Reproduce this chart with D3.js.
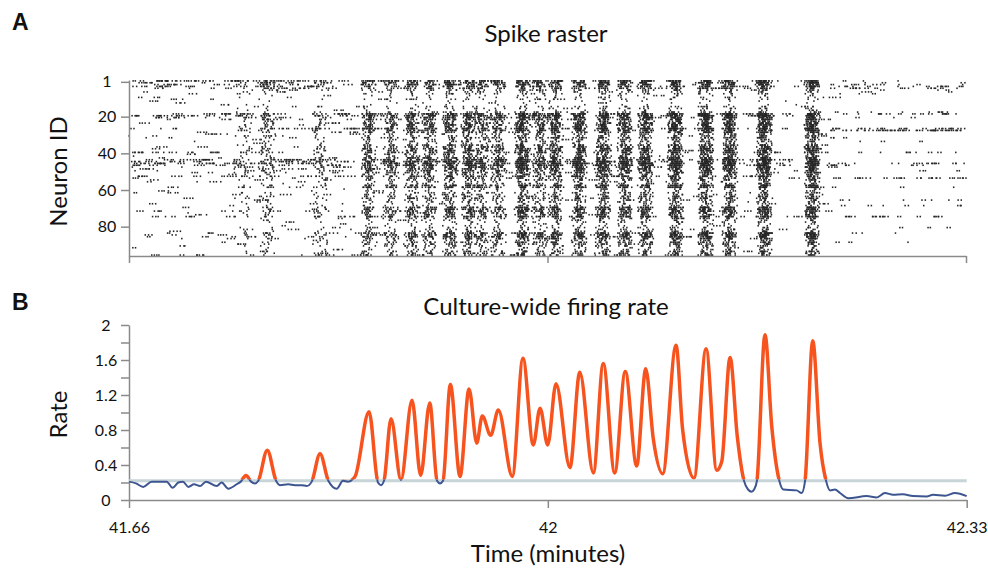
<!DOCTYPE html>
<html>
<head>
<meta charset="utf-8">
<script src="https://cdn.jsdelivr.net/npm/d3@7"></script>
<style>
  body { margin: 0; background: #fff; }
  svg text { font-family: Lato, "Open Sans", sans-serif; fill: #111; }
  .axis path, .axis line { stroke: #8a8a8a; stroke-width: 1.5; }
</style>
</head>
<body>
<svg id="chart" width="988" height="569"></svg>
<script>
// ---- Culture-wide firing rate (time in minutes, rate) ----
const rateTimes = [
  41.6667, 41.6722, 41.6780, 41.6847, 41.6967, 41.7014, 41.7059, 41.7096, 41.7139, 41.7184,
  41.7232, 41.7279, 41.7365, 41.7404, 41.7457, 41.7524, 41.7556, 41.7598, 41.7638, 41.7669,
  41.7696, 41.7767, 41.7837, 41.7868, 41.7934, 41.7988, 41.8041, 41.8081, 41.8121, 41.8187,
  41.8253, 41.8320, 41.8370, 41.8410, 41.8466, 41.8577, 41.8648, 41.8672, 41.8696, 41.8752,
  41.8831, 41.8919, 41.8988, 41.9060, 41.9118, 41.9142, 41.9166, 41.9224, 41.9301, 41.9373,
  41.9434, 41.9478, 41.9545, 41.9606, 41.9717, 41.9802, 41.9884, 41.9938, 41.9999, 42.0065,
  42.0176, 42.0254, 42.0362, 42.0441, 42.0532, 42.0616, 42.0707, 42.0779, 42.0839, 42.0914,
  42.1020, 42.1073, 42.1163, 42.1259, 42.1344, 42.1384, 42.1450, 42.1508, 42.1561, 42.1593,
  42.1622, 42.1641, 42.1664, 42.1728, 42.1782, 42.1842, 42.1874, 42.1980, 42.2020, 42.2047,
  42.2108, 42.2166, 42.2214, 42.2246, 42.2285, 42.2325, 42.2391, 42.2538, 42.2617, 42.2683,
  42.2747, 42.2826, 42.2906, 42.3015, 42.3065, 42.3161, 42.3240, 42.3333
];
const rateValues = [
  0.21, 0.19, 0.15, 0.21, 0.21, 0.14, 0.20, 0.21, 0.15, 0.18,
  0.16, 0.21, 0.16, 0.20, 0.13, 0.18, 0.21, 0.28, 0.21, 0.19,
  0.22, 0.57, 0.22, 0.17, 0.18, 0.17, 0.17, 0.16, 0.21, 0.53,
  0.22, 0.13, 0.22, 0.21, 0.27, 1.01, 0.20, 0.17, 0.22, 0.93,
  0.23, 1.14, 0.28, 1.11, 0.22, 0.19, 0.22, 1.32, 0.27, 1.27,
  0.65, 0.96, 0.74, 1.03, 0.27, 1.62, 0.63, 1.05, 0.63, 1.33,
  0.37, 1.46, 0.31, 1.56, 0.31, 1.47, 0.39, 1.50, 0.70, 0.30,
  1.77, 0.80, 0.25, 1.73, 0.34, 0.44, 1.63, 0.72, 0.22, 0.12,
  0.095, 0.12, 0.22, 1.89, 0.84, 0.22, 0.12, 0.11, 0.08, 0.22,
  1.82, 0.65, 0.22, 0.11, 0.12, 0.08, 0.02, 0.045, 0.03, 0.08,
  0.06, 0.065, 0.045, 0.04, 0.06, 0.05, 0.08, 0.045
];
const burstThreshold = 0.22;

// ---- Axes ----
const timeDomain = [41 + 2 / 3, 42 + 1 / 3];
const timeTicks = [41 + 2 / 3, 42, 42 + 1 / 3];
const timeTickLabels = ["41.66", "42", "42.33"];
const rateTicks = [0, 0.2, 0.4, 0.6, 0.8, 1.0, 1.2, 1.4, 1.6, 1.8, 2.0];
const rateTickLabels = ["0", "", "0.4", "", "0.8", "", "1.2", "", "1.6", "", "2"];
const neuronTicks = [1, 20, 40, 60, 80];

// ---- Spike raster: per-neuron activity levels (0-9) ----
const neuronCount = 96;
// background firing before the bursting phase
const activityEarly = [
  7, 4, 5, 5, 4, 2, 2, 2, 1, 2, 2, 1, 1, 1, 2, 1, 1, 1, 6, 6,
  4, 3, 1, 2, 1, 1, 5, 2, 2, 2, 3, 2, 1, 1, 1, 1, 2, 1, 1, 4,
  1, 1, 2, 6, 6, 6, 5, 3, 3, 3, 3, 1, 5, 2, 2, 2, 1, 1, 2, 1,
  1, 2, 2, 1, 2, 2, 1, 2, 1, 1, 1, 4, 1, 1, 4, 1, 1, 1, 1, 1,
  1, 2, 1, 3, 2, 3, 2, 1, 1, 1, 1, 1, 1, 1, 1, 4
];
// participation in network bursts
const activityBurst = [
  8, 8, 7, 7, 6, 5, 4, 4, 3, 3, 3, 2, 2, 2, 4, 4, 3, 5, 9, 9,
  8, 8, 6, 8, 8, 7, 9, 8, 7, 5, 5, 6, 5, 5, 4, 7, 7, 8, 8, 7,
  6, 6, 8, 8, 9, 9, 9, 8, 8, 7, 7, 6, 7, 6, 6, 4, 5, 8, 8, 4,
  4, 5, 5, 6, 6, 5, 5, 4, 4, 8, 8, 7, 7, 6, 8, 5, 4, 4, 3, 3,
  4, 4, 5, 8, 8, 8, 7, 5, 6, 6, 5, 4, 4, 6, 6, 6
];
// background firing after the bursting phase
const activityLate = [
  1, 1, 2, 3, 3, 1, 1, 1, 0, 0, 0, 0, 0, 0, 0, 0, 0, 2, 3, 0,
  1, 0, 0, 0, 0, 0, 4, 6, 0, 0, 0, 1, 0, 1, 0, 0, 0, 0, 0, 2,
  0, 0, 0, 0, 0, 3, 2, 0, 0, 1, 0, 0, 0, 4, 0, 0, 0, 0, 1, 0,
  0, 0, 0, 0, 0, 2, 0, 0, 2, 0, 0, 0, 0, 0, 3, 0, 0, 0, 0, 0,
  1, 0, 0, 1, 0, 0, 0, 0, 1, 0, 0, 0, 0, 0, 0, 0
];
const burstPhaseStart = 41.845;
const burstPhaseEnd = 42.225;

// integer hash -> [0,1), gives each spike a fixed place
function unit(a, b, c) {
  let h = Math.imul(a ^ 0x9e3779b9, 0x85ebca6b) ^ Math.imul(b + 0x632be5ab, 0xc2b2ae35) ^ Math.imul(c + 0x27d4eb2f, 0x165667b1);
  h ^= h >>> 15; h = Math.imul(h, 0x2c1b3c6d);
  h ^= h >>> 12; h = Math.imul(h, 0x297a2d39);
  h ^= h >>> 15;
  return (h >>> 0) / 4294967296;
}

// burst centres: local maxima of the rate above threshold
const bursts = [];
for (let i = 1; i < rateValues.length - 1; i++) {
  if (rateValues[i] > burstThreshold && rateValues[i] > rateValues[i - 1] && rateValues[i] > rateValues[i + 1]) {
    bursts.push({ t: rateTimes[i], a: rateValues[i] });
  }
}

const minPerPx = (timeDomain[1] - timeDomain[0]) / 837.7;
const spikes = [];
for (let n = 1; n <= neuronCount; n++) {
  const segs = [
    [timeDomain[0], burstPhaseStart, Math.pow(activityEarly[n - 1], 1.7) * 1.0, 1],
    [burstPhaseStart, burstPhaseEnd, Math.pow(activityEarly[n - 1], 1.7) * 1.1, 2],
    [burstPhaseEnd, timeDomain[1] - 0.0015, Math.pow(activityLate[n - 1], 1.5) * 3.0, 3]
  ];
  // background firing comes in short trains of 1-4 spikes
  segs.forEach(([t0, t1, trains, s]) => {
    const nTrains = Math.floor(trains + unit(n, 999, s));
    for (let k = 0; k < nTrains; k++) {
      const start = t0 + (t1 - t0) * unit(n, k, s);
      const len = 1 + Math.floor(unit(n, k, s + 20) * (s === 3 ? 2 : 4));
      for (let j = 0; j < len; j++) {
        spikes.push({ n, t: start + j * minPerPx * (2.2 + unit(n, k * 7 + j, s + 40) * 1.6) });
      }
    }
  });
  // burst spikes: count grows with the neuron's participation and the burst size
  bursts.forEach((b, bi) => {
    const p = activityBurst[n - 1] / 9;
    const expected = Math.pow(p, 2.2) * Math.pow(b.a / 1.2, 1.3) * 12;
    const count = Math.floor(expected + unit(n, bi, 7));
    for (let k = 0; k < count; k++) {
      const off = (unit(n, bi * 31 + k, 11) + unit(n, bi * 31 + k, 13) - 1) * 0.0068;
      spikes.push({ n, t: b.t + off });
    }
  });
}

const svg = d3.select("#chart");

// ---------- Panel A: spike raster ----------
const xR = d3.scaleLinear().domain(timeDomain).range([129, 966]);
const yN = d3.scaleLinear().domain([0, neuronCount]).range([80, 256]);
const rowH = yN(1) - yN(0);

svg.append("g")
  .selectAll("rect")
  .data(spikes.filter(d => d.t >= timeDomain[0] && d.t <= timeDomain[1]))
  .join("rect")
  .attr("x", d => xR(d.t) - 0.75)
  .attr("y", d => yN(d.n - 1) + 0.1)
  .attr("width", 1.5)
  .attr("height", rowH - 0.2)
  .attr("fill", "#262626");

const axN = svg.append("g").attr("class", "axis").attr("transform", "translate(129,0)")
  .call(d3.axisLeft(yN).tickValues(neuronTicks).tickSize(8).tickSizeOuter(0).tickPadding(0));
axN.selectAll("text").attr("text-anchor", "middle").attr("x", -22).style("font-size", "16px");

svg.append("g").attr("class", "axis").attr("transform", "translate(0,256)")
  .call(d3.axisBottom(xR).tickValues(timeTicks).tickSize(7).tickSizeOuter(0).tickFormat(""));

svg.append("text").attr("x", 546).attr("y", 42).attr("text-anchor", "middle")
  .style("font-size", "24px").text("Spike raster");
svg.append("text").attr("transform", "translate(67,171.5) rotate(-90)").attr("text-anchor", "middle")
  .style("font-size", "24px").text("Neuron ID");
svg.append("text").attr("x", 12).attr("y", 30)
  .style("font-family", "'Liberation Sans', Arial, sans-serif").style("font-weight", "bold").style("font-size", "23px").text("A");

// ---------- Panel B: culture-wide firing rate ----------
const x = d3.scaleLinear().domain(timeDomain).range([129, 966.7]);
const y = d3.scaleLinear().domain([0, 2]).range([500, 325]);

const axY = svg.append("g").attr("class", "axis").attr("transform", "translate(129,0)")
  .call(d3.axisLeft(y).tickValues(rateTicks).tickSize(8).tickSizeOuter(0)
    .tickFormat((d, i) => rateTickLabels[i]));
axY.selectAll("text").attr("text-anchor", "middle").attr("x", -23).style("font-size", "16px");

const axX = svg.append("g").attr("class", "axis").attr("transform", "translate(0,500)")
  .call(d3.axisBottom(x).tickValues(timeTicks).tickSize(8).tickSizeOuter(0)
    .tickFormat((d, i) => timeTickLabels[i]));
axX.selectAll("text").attr("y", 22).style("font-size", "16px");
svg.selectAll(".axis text").attr("fill", "#111");

// orange above the burst threshold, blue below it
const yThr = y(burstThreshold);
const cut = yThr - 1.5;
const defs = svg.append("defs");
defs.append("clipPath").attr("id", "above").append("rect")
  .attr("x", 0).attr("y", 0).attr("width", 988).attr("height", cut);
defs.append("clipPath").attr("id", "below").append("rect")
  .attr("x", 0).attr("y", cut).attr("width", 988).attr("height", 569 - cut);

svg.append("line")
  .attr("x1", x(timeDomain[0])).attr("x2", x(timeDomain[1]))
  .attr("y1", yThr).attr("y2", yThr)
  .attr("stroke", "#c7d4d8").attr("stroke-width", 3);

const rateData = rateTimes.map((t, i) => [t, rateValues[i]]);
const line = d3.line().x(d => x(d[0])).y(d => y(d[1])).curve(d3.curveMonotoneX);

svg.append("path").datum(rateData).attr("d", line)
  .attr("clip-path", "url(#below)")
  .attr("fill", "none").attr("stroke", "#3d5590").attr("stroke-width", 2);
svg.append("path").datum(rateData).attr("d", line)
  .attr("clip-path", "url(#above)")
  .attr("fill", "none").attr("stroke", "#f7531f").attr("stroke-width", 3.5)
  .attr("stroke-linejoin", "round");

svg.append("text").attr("x", 546).attr("y", 315).attr("text-anchor", "middle")
  .style("font-size", "24px").text("Culture-wide firing rate");
svg.append("text").attr("transform", "translate(67,414.5) rotate(-90)").attr("text-anchor", "middle")
  .style("font-size", "24px").text("Rate");
svg.append("text").attr("x", 548).attr("y", 562).attr("text-anchor", "middle")
  .style("font-size", "24px").text("Time (minutes)");
svg.append("text").attr("x", 12).attr("y", 310)
  .style("font-family", "'Liberation Sans', Arial, sans-serif").style("font-weight", "bold").style("font-size", "23px").text("B");
</script>
</body>
</html>
